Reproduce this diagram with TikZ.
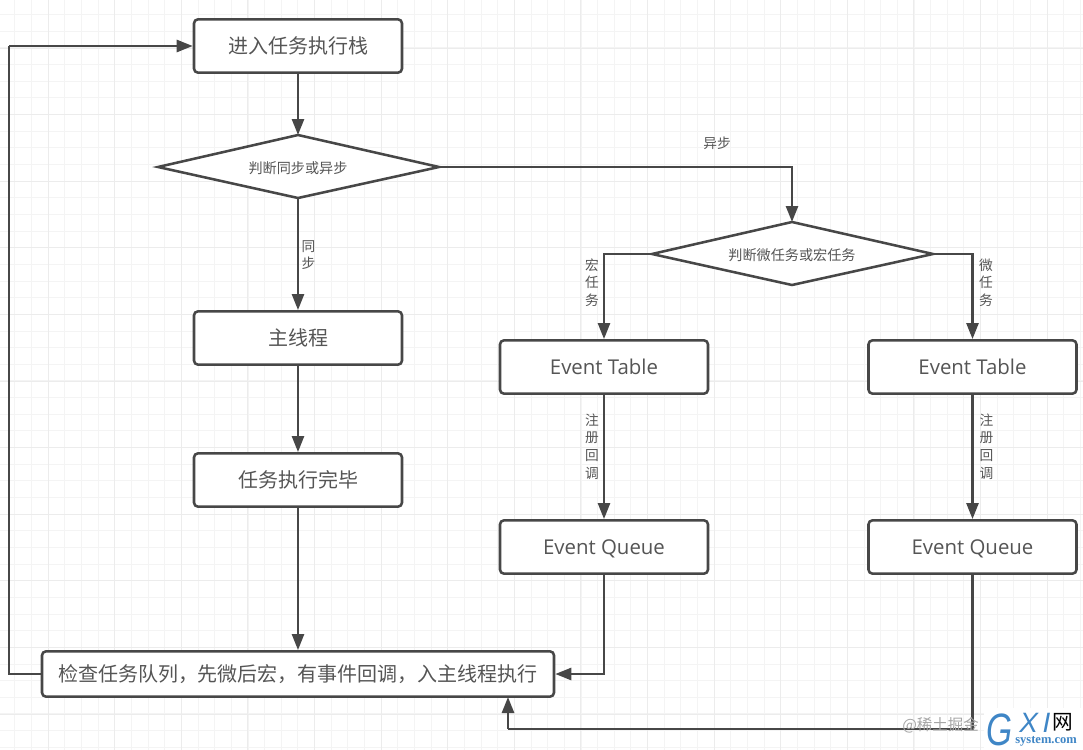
\documentclass[tikz,border=0pt]{standalone}
\usepackage{fontspec}
\setmainfont{Noto Sans CJK SC}
\newfontfamily\latinfont{Open Sans}
\newfontfamily\logosans{Liberation Sans}
\newfontfamily\logoserif{Liberation Serif}
\usetikzlibrary{arrows.meta}
\definecolor{inkline}{HTML}{474747}
\definecolor{inktext}{HTML}{555555}
\definecolor{gridminor}{HTML}{F4F4F4}
\definecolor{gridmajor}{HTML}{ECECEC}
\definecolor{logoblue}{HTML}{3F86C6}
\tikzset{
  x=0.75pt,y=-0.75pt,
  flowbox/.style={draw=inkline,line width=1.9pt,rounded corners=3pt,fill=white,inner sep=0pt,text=inktext,font=\fontsize{15}{17}\selectfont,minimum width=156pt,minimum height=40pt},
  eventbox/.style={flowbox,font=\latinfont\fontsize{15.3}{17}\selectfont,text height=11pt,text depth=0pt},
  decision/.style={draw=inkline,line width=1.9pt,fill=white,line join=miter},
  decisiontext/.style={text=inktext,font=\fontsize{10.6}{12}\selectfont},
  link/.style={draw=inkline,line width=1.9pt,-{Triangle[length=12pt,width=9pt]}},
  plainlink/.style={draw=inkline,line width=1.9pt},
  edgetext/.style={text=inktext,font=\fontsize{10.3}{13.3}\selectfont,align=center,inner sep=0pt},
}
\begin{document}
\begin{tikzpicture}
\useasboundingbox (0,0) rectangle (1083,750);
\fill[white] (0,0) rectangle (1083,750);
% background grid
\foreach \k in {0,...,65}{
  \draw[gridminor,line width=0.7pt] ({14.9+\k*16.65},0) -- ({14.9+\k*16.65},750);
}
\foreach \k in {0,...,45}{
  \draw[gridminor,line width=0.7pt] (0,{-2+\k*16.65}) -- (1083,{-2+\k*16.65});
}
\foreach \k in {0,...,15}{
  \draw[gridmajor,line width=0.7pt] ({48.1+\k*66.6},0) -- ({48.1+\k*66.6},750);
}
\foreach \k in {0,...,10}{
  \draw[gridmajor,line width=0.7pt] (0,{48+\k*66.6}) -- (1083,{48+\k*66.6});
}
% process boxes
\node[flowbox] (enter) at (298,46) {进入任务执行栈};
\node[flowbox] (main) at (298,338) {主线程};
\node[flowbox] (done) at (298,480) {任务执行完毕};
\node[eventbox] (tableA) at (604,367) {Event Table};
\node[eventbox] (tableB) at (972.5,367) {Event Table};
\node[eventbox] (queueA) at (604,547) {Event Queue};
\node[eventbox] (queueB) at (972.5,547) {Event Queue};
\node[flowbox,minimum width=384pt,minimum height=34pt] (check) at (298,674) {检查任务队列，先微后宏，有事件回调，入主线程执行};
% decisions
\coordinate (syncT) at (298,135);
\coordinate (syncR) at (439,167);
\coordinate (syncB) at (298,198);
\coordinate (syncL) at (158,167);
\draw[decision] (syncT) -- (syncR) -- (syncB) -- (syncL) -- cycle;
\node[decisiontext] (synctext) at (298,168) {判断同步或异步};
\coordinate (kindT) at (792,222);
\coordinate (kindR) at (933,254);
\coordinate (kindB) at (792,285);
\coordinate (kindL) at (652,254);
\draw[decision] (kindT) -- (kindR) -- (kindB) -- (kindL) -- cycle;
\node[decisiontext] (kindtext) at (792,255) {判断微任务或宏任务};
% connectors
\draw[link] (enter) -- (syncT);
\draw[link] (syncB) -- (main);
\draw[link] (main) -- (done);
\draw[link] (done) -- (check);
\draw[link] (syncR) -| (kindT);
\draw[link] (kindL) -| (tableA);
\draw[link] (kindR) -| (tableB);
\draw[link] (tableA) -- (queueA);
\draw[link] (tableB) -- (queueB);
\draw[link] (queueA) |- (check);
\coordinate (backL) at (9,674);
\coordinate (backT) at (9,46);
\draw[plainlink,line join=miter] (check.west) -- (backL) -- (backT);
\draw[link] (backT) -- (enter);
\coordinate (entryB) at (508,729);
\coordinate (entryT) at (508,697);
\draw[plainlink] (queueB) |- (entryB);
\draw[link] (entryB) -- (entryT);
% connector labels
\node[edgetext] (lblAsync) at (717,143) {异步};
\node[edgetext] (lblSync) at (308.5,255) {同\\步};
\node[edgetext] (lblMacro) at (592,282.5) {宏\\任\\务};
\node[edgetext] (lblMicro) at (986,282.5) {微\\任\\务};
\node[edgetext] (lblRegA) at (592,446.5) {注\\册\\回\\调};
\node[edgetext] (lblRegB) at (986.5,446.5) {注\\册\\回\\调};
% publisher marks in the lower right corner
\node[anchor=west,inner sep=0pt,text=black!35,font=\fontsize{11.6}{13}\selectfont] (credit) at (902,725) {@稀土掘金};
\fill[white] (984,708) rectangle (1083,750);
\node[anchor=west,inner sep=0pt,text=logoblue,font=\logosans\itshape\fontsize{34}{35}\selectfont] (logoG) at (986,729.5) {\scalebox{0.74}[1]{G}};
\node[anchor=west,inner sep=0pt,text=logoblue,font=\logosans\itshape\fontsize{21}{22}\selectfont] (logoXI) at (1019,723) {X\,I};
\node[anchor=west,inner sep=0pt,text=black,font=\fontsize{15.5}{16}\selectfont] (logoNet) at (1052,722) {网};
\node[anchor=west,inner sep=0pt,text=logoblue,font=\logoserif\bfseries\fontsize{9.4}{10}\selectfont] (logoSite) at (1015,741.5) {system.com};
\end{tikzpicture}
\end{document}
